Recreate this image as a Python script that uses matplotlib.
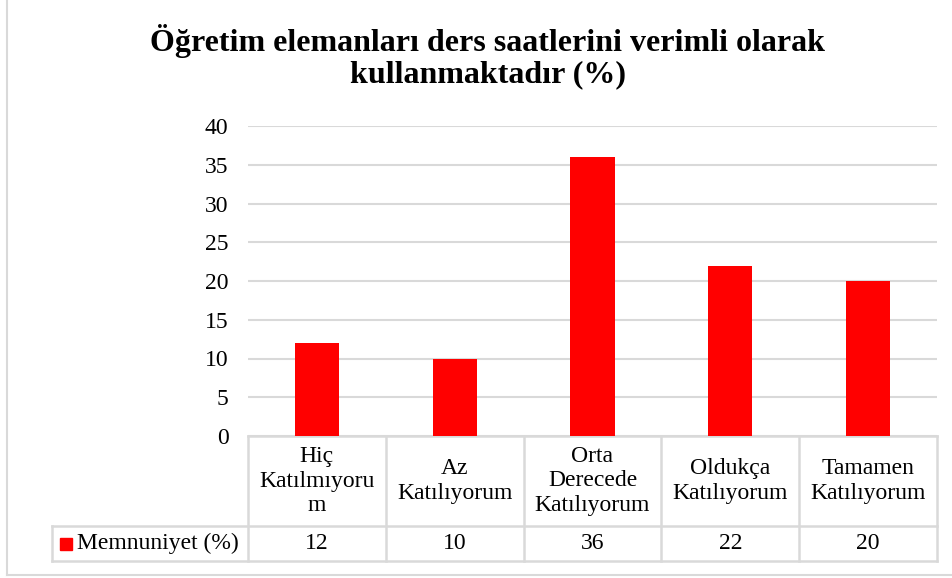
import matplotlib
matplotlib.use("Agg")
import matplotlib.pyplot as plt
from matplotlib.lines import Line2D
from matplotlib.patches import Rectangle
import matplotlib.transforms as mtrans

categories = ["Hiç\nKatılmıyoru\nm", "Az\nKatılıyorum", "Orta\nDerecede\nKatılıyorum",
              "Oldukça\nKatılıyorum", "Tamamen\nKatılıyorum"]
values = [12, 10, 36, 22, 20]
series_name = "Memnuniyet (%)"
title = "Öğretim elemanları ders saatlerini verimli olarak\nkullanmaktadır (%)"
yticks = [0, 5, 10, 15, 20, 25, 30, 35, 40]

plt.rcParams['font.family'] = ['Liberation Serif', 'DejaVu Serif']

W, H = 953, 578
fig = plt.figure(figsize=(W / 100, H / 100), dpi=100)
grey = "#d9d9d9"
FS = 17

# outer border (left and bottom visible)
fig.add_artist(Line2D([6.5 / W, 6.5 / W], [1 - 575 / H, 1.0], transform=fig.transFigure,
                      color=grey, lw=1.5))
fig.add_artist(Line2D([6.5 / W, 1.0], [1 - 575 / H, 1 - 575 / H], transform=fig.transFigure,
                      color=grey, lw=1.5))

x0, x1, ytop, ybot = 248, 937, 126, 436
ax = fig.add_axes([x0 / W, 1 - ybot / H, (x1 - x0) / W, (ybot - ytop) / H])
n = len(categories)
xs = [i + 0.5 for i in range(n)]
ax.bar(xs, values, width=0.32, color="#ff0000", zorder=3)
ax.set_xlim(0, n)
ax.set_ylim(0, 40)
ax.set_yticks(yticks)
ax.set_yticklabels([str(t) for t in yticks], fontsize=FS)
ax.tick_params(axis='y', length=0, pad=14)
ax.set_xticks([])
ax.grid(axis='y', color=grey, lw=1.5, zorder=0)
for s in ax.spines.values():
    s.set_visible(False)

fig.text(488 / W, 1 - 57 / H, title, ha='center', va='center', fontsize=23,
         fontweight='bold', linespacing=1.1)

# data table
tr = mtrans.blended_transform_factory(ax.transData, ax.transAxes)
hpx = ybot - ytop
r1 = -(526 - ybot) / hpx
r2 = -(561 - ybot) / hpx
cw = (x1 - x0) / n
legx = (52 - x0) / cw

def L(xa, ya, xb, yb):
    ax.add_line(Line2D([xa, xb], [ya, yb], transform=tr, color=grey, lw=1.8,
                       clip_on=False, zorder=1))

L(0, 0, n, 0)
L(legx, r1, n, r1)
L(legx, r2, n, r2)
for i in range(n + 1):
    L(i, 0, i, r2)
L(legx, r1, legx, r2)

for i, (c, v) in enumerate(zip(categories, values)):
    ax.text(i + 0.5, r1 / 2, c, transform=tr, ha='center', va='center', fontsize=FS,
            linespacing=1.2, clip_on=False)
    ax.text(i + 0.5, (r1 + r2) / 2, str(v), transform=tr, ha='center', va='center',
            fontsize=FS, clip_on=False)

# legend key + series name
ymid = (r1 + r2) / 2
sq = 12 / hpx
ax.add_patch(Rectangle(((60 - x0) / cw, ymid - sq / 2), 12 / cw, sq, transform=tr,
                       color="#ff0000", clip_on=False))
ax.text((77 - x0) / cw, ymid, series_name, transform=tr,
        ha='left', va='center', fontsize=FS, clip_on=False)

fig.savefig("out.png", dpi=100)
